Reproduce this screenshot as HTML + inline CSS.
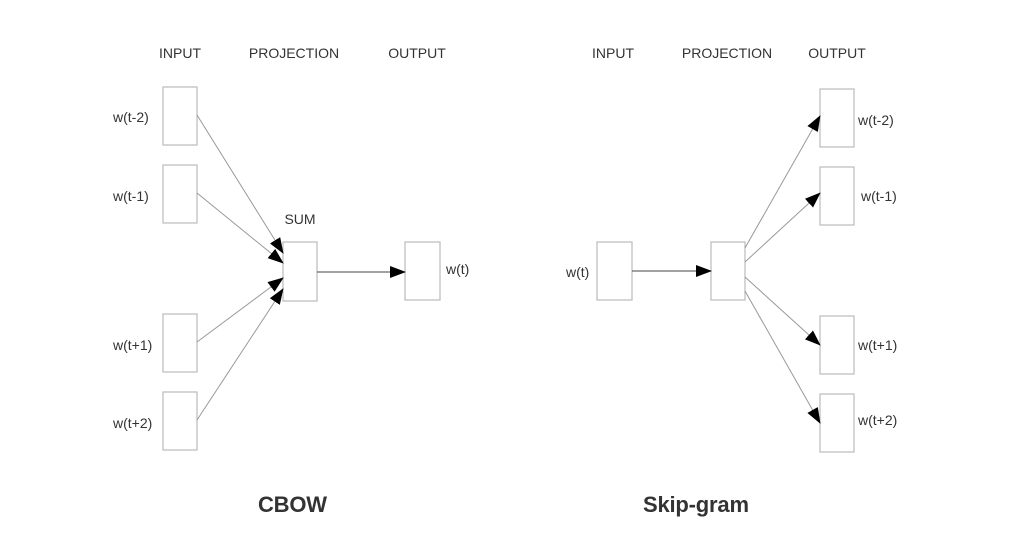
<!DOCTYPE html>
<html><head><meta charset="utf-8"><style>
html,body{margin:0;padding:0;background:#fff;}
svg{display:block;}
text{font-family:"Liberation Sans",Arial,sans-serif;fill:#333;}
</style></head><body>
<svg width="1013" height="554" viewBox="0 0 1013 554" xmlns="http://www.w3.org/2000/svg">
<defs>
<marker id="a" markerWidth="16" markerHeight="12" refX="15" refY="6" orient="auto" markerUnits="userSpaceOnUse">
<path d="M0,0 L16,6 L0,12 z" fill="#000"/></marker>
</defs>
<g font-size="14" text-anchor="middle">
<text x="180" y="58">INPUT</text>
<text x="294" y="58">PROJECTION</text>
<text x="417" y="58">OUTPUT</text>
<text x="613" y="58">INPUT</text>
<text x="727" y="58">PROJECTION</text>
<text x="837" y="58">OUTPUT</text>
<text x="300" y="224">SUM</text>
</g>
<g fill="#fff" stroke="#bbb" stroke-width="1.2">
<rect x="163" y="87" width="34" height="58"/>
<rect x="163" y="165" width="34" height="58"/>
<rect x="163" y="314" width="34" height="58"/>
<rect x="163" y="392" width="34" height="58"/>
<rect x="283" y="242" width="34" height="59"/>
<rect x="405" y="242" width="35" height="58"/>
<rect x="597" y="242" width="35" height="58"/>
<rect x="711" y="242" width="34" height="58"/>
<rect x="820" y="89" width="34" height="58"/>
<rect x="820" y="167" width="34" height="58"/>
<rect x="820" y="316" width="34" height="58"/>
<rect x="820" y="394" width="34" height="58"/>
</g>
<g stroke="#999" stroke-width="1" marker-end="url(#a)">
<line x1="197" y1="115" x2="283" y2="253"/>
<line x1="197" y1="193" x2="283" y2="263"/>
<line x1="197" y1="342" x2="283" y2="278"/>
<line x1="197" y1="420" x2="283" y2="289"/>
<line x1="745" y1="248" x2="820" y2="116"/>
<line x1="745" y1="262" x2="820" y2="193"/>
<line x1="745" y1="277" x2="820" y2="345"/>
<line x1="745" y1="291" x2="820" y2="423"/>
</g>
<g stroke="#444" stroke-width="1" marker-end="url(#a)">
<line x1="317" y1="272" x2="405" y2="272"/>
<line x1="632" y1="271" x2="711" y2="271"/>
</g>
<g font-size="14">
<text x="113" y="122">w(t-2)</text>
<text x="113" y="201">w(t-1)</text>
<text x="113" y="350">w(t+1)</text>
<text x="113" y="428">w(t+2)</text>
<text x="446" y="274">w(t)</text>
<text x="566" y="277">w(t)</text>
<text x="858" y="125">w(t-2)</text>
<text x="861" y="201">w(t-1)</text>
<text x="858" y="350">w(t+1)</text>
<text x="858" y="425">w(t+2)</text>
</g>
<g font-size="22" font-weight="bold">
<text x="258" y="512" textLength="69">CBOW</text>
<text x="643" y="512" textLength="106">Skip-gram</text>
</g>
</svg>
</body></html>
